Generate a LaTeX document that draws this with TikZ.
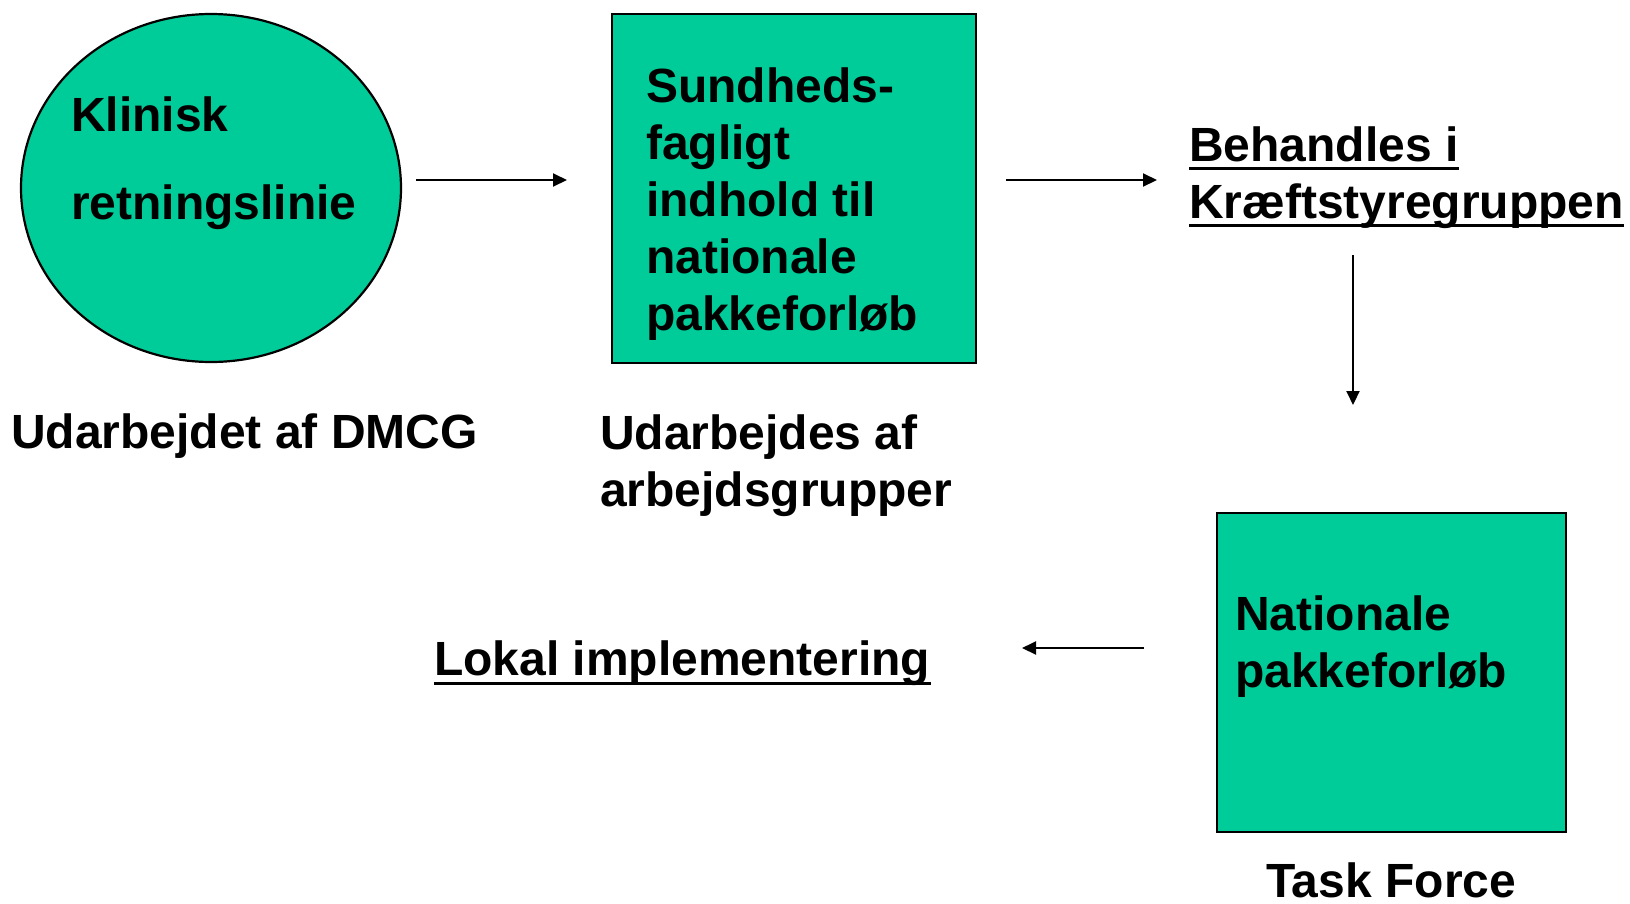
\documentclass[tikz,border=0pt]{standalone}
\usepackage{fontspec}
\setmainfont{Liberation Sans}
\usetikzlibrary{arrows.meta,shapes.geometric}
\definecolor{pgreen}{RGB}{0,204,153}
\begin{document}
\begin{tikzpicture}[x=1pt,y=-1pt,
  txt/.style={inner sep=0pt, font=\fontsize{48}{57}\selectfont\bfseries, align=left},
  greenshape/.style={draw=black, line width=2.2pt, fill=pgreen, inner sep=0pt},
  conn/.style={line width=2pt, -{Triangle[length=14pt,width=13pt]}},
  uline/.style={line width=3pt}]
\useasboundingbox (0,0) rectangle (1630,903);
% shapes
\node[greenshape, ellipse, minimum width=380, minimum height=348] (klin) at (211,188) {};
\node[greenshape, rectangle, minimum width=364, minimum height=349, anchor=north west] (box1) at (611,13) {};
\node[greenshape, rectangle, minimum width=349, minimum height=319, anchor=north west] (box2) at (1216,512) {};
% texts
\node[txt, anchor=north west] (klintxt) at (71,97) {Klinisk\\[31pt]retningslinie};
\node[txt, anchor=north west] (box1txt) at (646,68) {Sundheds-\\fagligt\\indhold til\\nationale\\pakkeforløb};
\node[txt, anchor=north west] (box2txt) at (1235,596) {Nationale\\pakkeforløb};
\node[txt, anchor=base west] (lab1) at (11,448) {Udarbejdet af DMCG};
\node[txt, anchor=north west] (lab2) at (600,415) {Udarbejdes af\\arbejdsgrupper};
\node[txt, anchor=base west] (beh) at (1189,161) {Behandles i};
\node[txt, anchor=base west] (kraeft) at (1189,218) {Kræftstyregruppen};
\node[txt, anchor=base west] (lokal) at (434,675) {Lokal implementering};
\node[txt, anchor=base west] (task) at (1266,897) {Task Force};
% underlines
\draw[uline] ([yshift=-7pt]beh.base west) -- ([yshift=-7pt]beh.base east);
\draw[uline] ([yshift=-7pt]kraeft.base west) -- ([yshift=-7pt]kraeft.base east);
\draw[uline] ([yshift=-8pt]lokal.base west) -- ([yshift=-8pt]lokal.base east);
% connectors
\coordinate (a1s) at (416,180); \coordinate (a1e) at (567,180);
\coordinate (a2s) at (1006,180); \coordinate (a2e) at (1157,180);
\coordinate (a3s) at (1353,255); \coordinate (a3e) at (1353,405);
\coordinate (a4s) at (1144,648); \coordinate (a4e) at (1022,648);
\draw[conn] (a1s) -- (a1e);
\draw[conn] (a2s) -- (a2e);
\draw[conn] (a3s) -- (a3e);
\draw[conn] (a4s) -- (a4e);
\end{tikzpicture}
\end{document}
